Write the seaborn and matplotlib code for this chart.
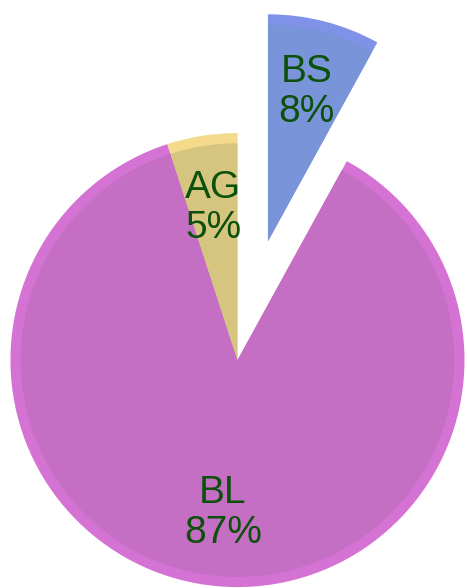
import matplotlib
matplotlib.use("Agg")
import matplotlib.pyplot as plt
import seaborn as sns

sns.set_theme(style="white")
plt.rcParams['font.family'] = ['Liberation Sans', 'DejaVu Sans']

categories = ["BS", "BL", "AG"]
values = [8, 87, 5]
pct_labels = ["8%", "87%", "5%"]

rim_colors = ["#8091e8", "#d473d4", "#f4db8c"]
inner_colors = ["#7a94da", "#c56fc4", "#d6c57e"]
explode = [0.54, 0, 0]

fig = plt.figure(figsize=(4.67, 5.88), dpi=100)
ax = fig.add_axes([0, 0, 1, 1])
ax.set_axis_off()

# outer rim (lighter)
ax.pie(values, colors=rim_colors, startangle=90, counterclock=False,
       explode=explode, radius=1.0,
       wedgeprops=dict(linewidth=0))
# inner body (darker)
wedges, texts, autotexts = ax.pie(
    values, colors=inner_colors, startangle=90, counterclock=False,
    explode=explode, radius=0.955, autopct="%1.0f%%", pctdistance=0.71,
    wedgeprops=dict(linewidth=0),
    textprops=dict(color="#0b500b", fontsize=28, ha="center", va="center",
                   linespacing=1.15))
for t, c, p in zip(autotexts, categories, pct_labels):
    t.set_text(f"{c}\n{p}")

ax.set_aspect("equal")
ax.set_xlim(-1.045, 1.01)
ax.set_ylim(-1.004, 1.586)

fig.savefig("out.png", dpi=100)
